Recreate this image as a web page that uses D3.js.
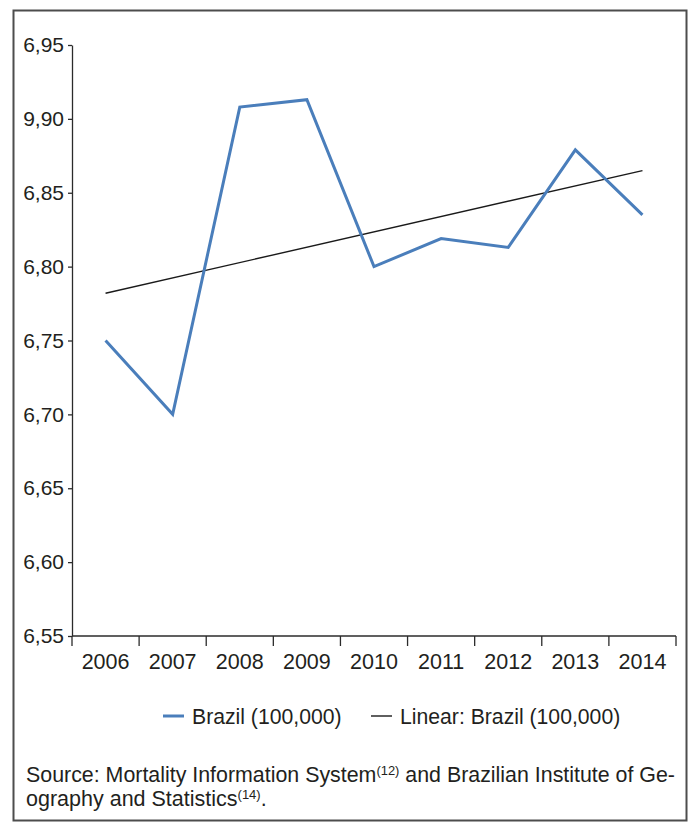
<!DOCTYPE html>
<html>
<head>
<meta charset="utf-8">
<script src="https://cdn.jsdelivr.net/npm/d3@7"></script>
<style>
  html, body { margin: 0; padding: 0; background: #fff; }
  svg { display: block; }
  text { font-family: "Liberation Sans", Arial, Helvetica, sans-serif; fill: #231f20; }
</style>
</head>
<body>
<svg id="chart" width="694" height="824"></svg>
<script>
// Deaths per 100,000 inhabitants, Brazil
const years = ["2006", "2007", "2008", "2009", "2010", "2011", "2012", "2013", "2014"];
const brazilRate = [6.750, 6.700, 6.908, 6.913, 6.800, 6.819, 6.813, 6.879, 6.835];
// Linear trend, value at first and last year
const trendYears = ["2006", "2014"];
const trendValues = [6.782, 6.865];
const yTickValues = [6.55, 6.60, 6.65, 6.70, 6.75, 6.80, 6.85, 6.90, 6.95];
const yTickLabels = ["6,55", "6,60", "6,65", "6,70", "6,75", "6,80", "6,85", "9,90", "6,95"];
const legendLabels = ["Brazil (100,000)", "Linear: Brazil (100,000)"];

const svg = d3.select("#chart");
const axisColor = "#2b2b2b";
const blue = "#4a7ebb";

// Frame around the figure
svg.append("rect")
  .attr("x", 13.5).attr("y", 10.5)
  .attr("width", 673).attr("height", 810)
  .attr("fill", "none")
  .attr("stroke", "#4d4d4d")
  .attr("stroke-width", 2);

const plot = { left: 72, right: 676, top: 45, bottom: 636 };

const x = d3.scaleBand().domain(years).range([plot.left, plot.right]).padding(0);
const y = d3.scaleLinear().domain([6.55, 6.95]).range([plot.bottom, plot.top]);
const cx = d => x(d) + x.bandwidth() / 2;

// Y axis
const yAxis = d3.axisLeft(y)
  .tickValues(yTickValues)
  .tickFormat((d, i) => yTickLabels[i])
  .tickSize(4)
  .tickPadding(4)
  .tickSizeOuter(0);
const gy = svg.append("g").attr("transform", `translate(${plot.left},0)`).call(yAxis);
gy.select(".domain").attr("stroke", axisColor).attr("stroke-width", 1.3);
gy.selectAll(".tick line").attr("stroke", axisColor).attr("stroke-width", 1.3);
gy.selectAll(".tick text")
  .attr("font-size", 21)
  .attr("font-family", "Liberation Sans, Arial, sans-serif")
  .attr("fill", "#231f20");

// X axis: line with ticks on the category boundaries
const gx = svg.append("g");
gx.append("line")
  .attr("x1", plot.left).attr("x2", plot.right)
  .attr("y1", plot.bottom).attr("y2", plot.bottom)
  .attr("stroke", axisColor).attr("stroke-width", 1.3);
const boundaries = years.map(d => x(d)).concat([x(years[years.length - 1]) + x.bandwidth()]);
gx.selectAll("line.tick")
  .data(boundaries)
  .join("line")
  .attr("class", "tick")
  .attr("x1", d => d).attr("x2", d => d)
  .attr("y1", plot.bottom).attr("y2", plot.bottom + 10)
  .attr("stroke", axisColor).attr("stroke-width", 1.3);
gx.selectAll("text")
  .data(years)
  .join("text")
  .attr("x", d => cx(d))
  .attr("y", 669)
  .attr("text-anchor", "middle")
  .attr("font-size", 21.5)
  .text(d => d);

// Trend line
const trendLine = d3.line().x(d => cx(d[0])).y(d => y(d[1]));
svg.append("path")
  .datum(trendYears.map((d, i) => [d, trendValues[i]]))
  .attr("d", trendLine)
  .attr("fill", "none")
  .attr("stroke", "#1a1a1a")
  .attr("stroke-width", 1.4);

// Brazil series
const seriesLine = d3.line().x(d => cx(d[0])).y(d => y(d[1]));
svg.append("path")
  .datum(years.map((d, i) => [d, brazilRate[i]]))
  .attr("d", seriesLine)
  .attr("fill", "none")
  .attr("stroke", blue)
  .attr("stroke-width", 3)
  .attr("stroke-linejoin", "miter");

// Legend
const legendY = 716;
const legend = [
  { x: 163, color: blue, width: 3, label: legendLabels[0] },
  { x: 371, color: "#1a1a1a", width: 1.4, label: legendLabels[1] }
];
const lg = svg.append("g").selectAll("g").data(legend).join("g");
lg.append("line")
  .attr("x1", d => d.x).attr("x2", d => d.x + 21)
  .attr("y1", legendY).attr("y2", legendY)
  .attr("stroke", d => d.color).attr("stroke-width", d => d.width);
lg.append("text")
  .attr("x", d => d.x + 29)
  .attr("y", legendY + 7.5)
  .attr("font-size", 21.2)
  .text(d => d.label);

// Source note, first line justified to the frame
const note = svg.append("g").attr("font-size", 21.5);
const line1 = note.append("text").attr("x", 26).attr("y", 782);
line1.append("tspan").text("Source: Mortality Information System");
line1.append("tspan").attr("font-size", 13).attr("dy", -7).text("(12)");
line1.append("tspan").attr("dy", 7).text(" and Brazilian Institute of Ge-");
const target = 675 - 26;
const len = line1.node().getComputedTextLength();
const gaps = 7;
if (len < target) line1.attr("word-spacing", (target - len) / gaps);
else line1.attr("textLength", target).attr("lengthAdjust", "spacingAndGlyphs");

const line2 = note.append("text").attr("x", 26).attr("y", 806);
line2.append("tspan").text("ography and Statistics");
line2.append("tspan").attr("font-size", 13).attr("dy", -7).text("(14)");
line2.append("tspan").attr("dy", 7).text(".");
</script>
</body>
</html>
